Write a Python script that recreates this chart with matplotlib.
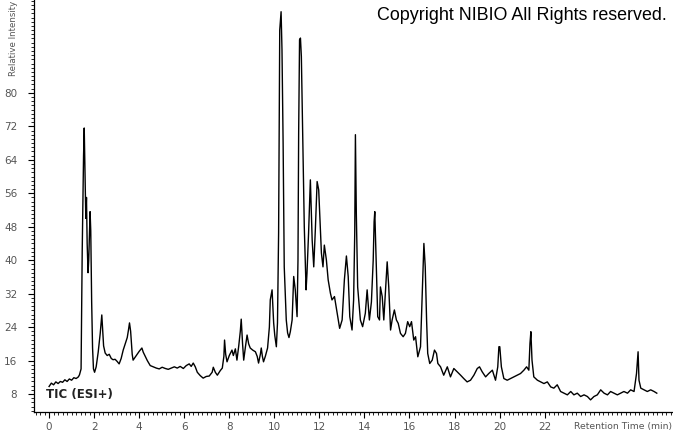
import matplotlib
matplotlib.use("Agg")
import matplotlib.pyplot as plt
from matplotlib.ticker import MultipleLocator, FixedLocator

# Retention time (min)
time_min = [
    0.00, 0.10, 0.20, 0.30, 0.40, 0.50, 0.60, 0.70, 0.80, 0.90, 1.00, 1.10, 1.20, 1.30, 1.35,
    1.42, 1.47, 1.53, 1.56, 1.60, 1.63, 1.66, 1.69, 1.73, 1.76, 1.80, 1.82, 1.85, 1.89, 1.93,
    1.97, 2.02, 2.09, 2.18, 2.27, 2.34, 2.38, 2.42, 2.49, 2.58, 2.67, 2.76, 2.84, 2.93, 3.02,
    3.11, 3.20, 3.29, 3.38, 3.47, 3.53, 3.57, 3.62, 3.69, 3.73, 3.82, 3.91, 4.00, 4.12, 4.18,
    4.27, 4.36, 4.49, 4.62, 4.76, 4.89, 5.02, 5.16, 5.29, 5.42, 5.56, 5.69, 5.82, 5.96, 6.09,
    6.22, 6.31, 6.40, 6.49, 6.58, 6.71, 6.84, 6.98, 7.11, 7.24, 7.29, 7.38, 7.47, 7.60, 7.69,
    7.76, 7.79, 7.84, 7.90, 8.00, 8.12, 8.18, 8.27, 8.34, 8.42, 8.49, 8.53, 8.59, 8.64, 8.71,
    8.79, 8.86, 8.93, 9.04, 9.16, 9.24, 9.30, 9.38, 9.42, 9.47, 9.52, 9.60, 9.70, 9.78, 9.82,
    9.90, 9.97, 10.02, 10.09, 10.14, 10.19, 10.24, 10.30, 10.34, 10.39, 10.44, 10.53, 10.59, 10.65, 10.71,
    10.79, 10.86, 10.93, 11.01, 11.05, 11.08, 11.12, 11.16, 11.20, 11.26, 11.33, 11.41, 11.45, 11.52, 11.60,
    11.68, 11.75, 11.82, 11.90, 11.97, 12.04, 12.09, 12.16, 12.22, 12.31, 12.39, 12.49, 12.56, 12.67, 12.79,
    12.90, 13.01, 13.11, 13.20, 13.28, 13.35, 13.45, 13.52, 13.57, 13.60, 13.64, 13.70, 13.82, 13.92, 14.04,
    14.12, 14.22, 14.31, 14.39, 14.43, 14.46, 14.52, 14.59, 14.67, 14.71, 14.79, 14.86, 14.93, 15.01, 15.08,
    15.16, 15.23, 15.33, 15.42, 15.50, 15.60, 15.72, 15.82, 15.92, 16.01, 16.09, 16.19, 16.27, 16.37, 16.49,
    16.56, 16.64, 16.70, 16.76, 16.81, 16.90, 17.01, 17.11, 17.20, 17.26, 17.38, 17.52, 17.68, 17.82, 17.97,
    18.12, 18.27, 18.41, 18.56, 18.71, 18.86, 19.01, 19.11, 19.23, 19.38, 19.52, 19.68, 19.82, 19.92, 19.97,
    20.01, 20.08, 20.19, 20.34, 20.49, 20.64, 20.79, 20.93, 21.08, 21.20, 21.30, 21.35, 21.39, 21.44, 21.52,
    21.68, 21.82, 21.97, 22.12, 22.27, 22.41, 22.56, 22.71, 22.86, 23.01, 23.16, 23.30, 23.45, 23.60, 23.75,
    23.90, 24.04, 24.19, 24.34, 24.49, 24.64, 24.79, 24.93, 25.08, 25.23, 25.38, 25.52, 25.68, 25.82, 25.97,
    26.08, 26.15, 26.19, 26.27, 26.41, 26.56, 26.71, 26.86, 26.98,
]

# Relative intensity
intensity = [
    9.8, 10.6, 10.2, 10.9, 10.5, 11.0, 10.8, 11.4, 11.0, 11.6, 11.3, 11.9, 11.7, 12.1, 12.6,
    14.0, 42.0, 65.0, 71.6, 59.0, 50.0, 55.0, 44.0, 37.0, 40.0, 48.0, 51.6, 47.0, 30.0, 19.0,
    14.0, 13.2, 14.5, 18.0, 22.5, 26.9, 23.0, 19.5, 17.8, 17.2, 17.5, 16.5, 16.2, 16.3, 15.8,
    15.2, 16.5, 18.5, 20.0, 21.5, 23.5, 25.0, 23.0, 17.5, 16.1, 16.8, 17.5, 18.2, 19.0, 18.0,
    17.0, 16.0, 14.8, 14.5, 14.2, 14.0, 14.4, 14.1, 13.9, 14.2, 14.5, 14.2, 14.6, 14.1, 14.8,
    15.2, 14.6, 15.4, 14.5, 13.2, 12.4, 11.8, 12.2, 12.3, 13.2, 14.4, 13.2, 12.5, 13.6, 14.2,
    17.0, 20.9, 17.5, 15.7, 17.2, 18.5, 17.2, 18.8, 16.1, 19.5, 23.0, 25.9, 20.0, 16.1, 19.0,
    22.1, 20.0, 19.0, 18.5, 18.1, 17.0, 15.4, 17.5, 19.0, 17.0, 15.7, 17.0, 19.0, 24.0, 30.5,
    32.9, 25.0, 22.0, 19.3, 25.0, 46.5, 95.0, 99.4, 90.3, 68.0, 38.4, 25.7, 22.6, 21.5, 22.9,
    25.7, 36.1, 32.9, 26.5, 40.0, 70.4, 92.7, 93.1, 88.7, 70.4, 48.0, 32.9, 36.9, 46.4, 59.2,
    44.8, 38.4, 47.2, 58.8, 56.8, 48.0, 41.7, 38.4, 43.6, 40.1, 35.3, 32.1, 30.5, 31.3, 27.3,
    23.7, 25.7, 35.3, 41.0, 36.1, 26.5, 23.3, 30.5, 46.5, 70.0, 51.2, 33.6, 25.7, 24.1, 27.3,
    32.9, 25.7, 30.0, 40.0, 49.2, 51.6, 40.0, 26.5, 25.7, 33.6, 31.3, 25.7, 32.1, 39.6, 33.6,
    23.3, 25.7, 28.1, 25.7, 24.9, 22.5, 21.7, 22.5, 25.3, 24.1, 25.3, 20.9, 21.7, 16.9, 19.3,
    30.5, 44.0, 38.4, 25.7, 17.7, 15.3, 16.1, 18.5, 17.7, 15.3, 14.5, 12.5, 14.5, 12.1, 14.1,
    13.3, 12.5, 11.7, 10.9, 11.3, 12.5, 14.1, 14.5, 13.3, 12.1, 12.9, 13.7, 11.3, 14.5, 19.3,
    19.3, 14.5, 11.7, 11.3, 11.7, 12.1, 12.5, 12.9, 13.7, 14.5, 13.7, 20.1, 22.9, 16.1, 12.1,
    11.3, 10.9, 10.5, 10.9, 9.7, 9.4, 10.2, 8.6, 8.2, 7.8, 8.6, 7.8, 8.2, 7.4, 7.8,
    7.4, 6.6, 7.4, 7.8, 9.0, 8.2, 7.8, 8.6, 8.2, 7.8, 8.2, 8.6, 8.2, 9.0, 8.6,
    12.9, 18.1, 11.3, 9.4, 9.0, 8.6, 9.0, 8.6, 8.2,
]

x_ticks = [0, 2, 4, 6, 8, 10, 12, 14, 16, 18, 20, 22]
y_ticks = [8, 16, 24, 32, 40, 48, 56, 64, 72, 80]

W, H = 673, 433
fig = plt.figure(figsize=(W / 100, H / 100), dpi=100)
ax = fig.add_axes([34 / W, (H - 412) / H, 1 - 34 / W, 412 / H])

ax.plot(time_min, intensity, color="black", linewidth=1.0)

ax.set_xlim(-0.67, 27.7)
ax.set_ylim(3.7, 102.2)

ax.spines["top"].set_visible(False)
ax.spines["right"].set_visible(False)
for s in ("left", "bottom"):
    ax.spines[s].set_linewidth(0.9)

tick_color = "#555555"
ax.xaxis.set_major_locator(FixedLocator(x_ticks))
ax.xaxis.set_minor_locator(MultipleLocator(0.2))
ax.yaxis.set_major_locator(FixedLocator(y_ticks))
ax.yaxis.set_minor_locator(MultipleLocator(1))
ax.tick_params(axis="both", which="major", length=4, width=0.8, direction="out",
               labelsize=7.5, labelcolor=tick_color, pad=3)
ax.tick_params(axis="y", which="major", pad=8)
ax.tick_params(axis="both", which="minor", length=2.5, width=0.6, direction="out")
ax.set_xticklabels([str(v) for v in x_ticks], family="DejaVu Sans")
ax.set_yticklabels([str(v) for v in y_ticks], family="DejaVu Sans")

fig.text(14 / W, 1 - 1 / H, "Relative Intensity", rotation=90, ha="center", va="top",
         fontsize=6.2, color=tick_color, family="DejaVu Sans")
fig.text(672 / W, 1 - 427 / H, "Retention Time (min)", ha="right", va="center",
         fontsize=6.7, color=tick_color, family="DejaVu Sans")
fig.text(667 / W, 1 - 15 / H, "Copyright NIBIO All Rights reserved.", ha="right", va="center",
         fontsize=12.9, color="black", family="Liberation Sans")
ax.text(-0.12, 8.0, "TIC (ESI+)", ha="left", va="center",
        fontsize=8.5, color="#222222", family="DejaVu Sans", fontweight="bold")

fig.savefig("out.png", dpi=100)
